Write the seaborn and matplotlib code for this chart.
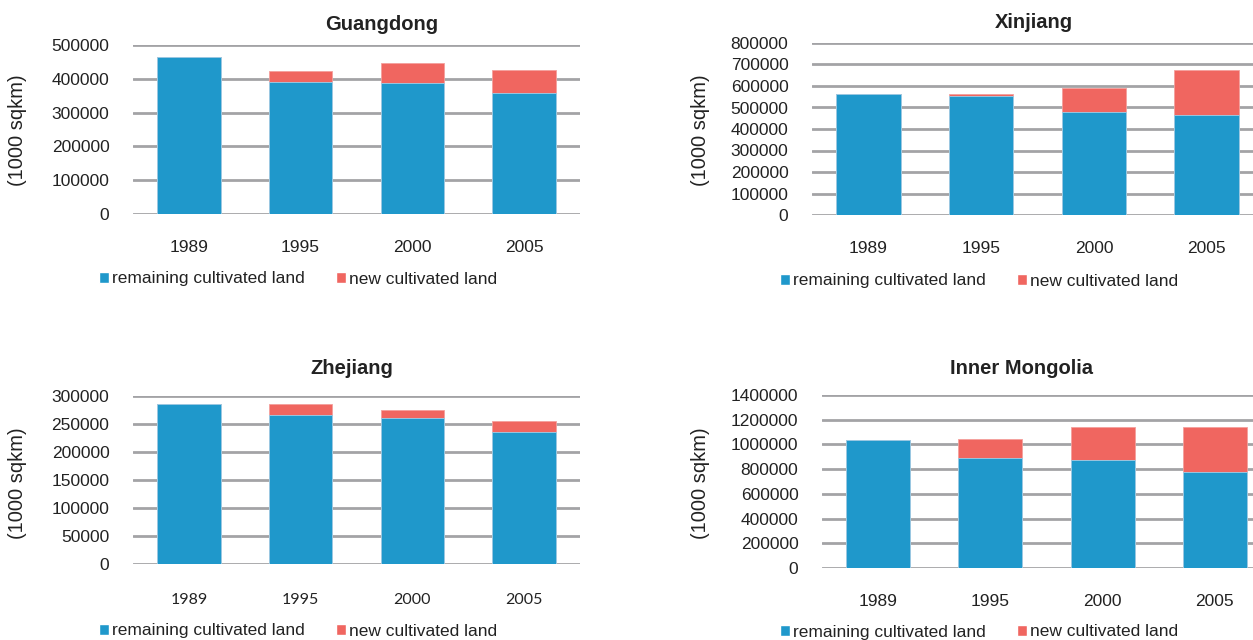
import pandas as pd
import seaborn as sns
import matplotlib.pyplot as plt
from matplotlib.patches import Patch
from matplotlib.ticker import FuncFormatter

# cultivated land by province (1000 sqkm)
years = ["1989", "1995", "2000", "2005"]

guangdong_remaining = [465000, 391000, 387000, 358000]
guangdong_new = [0, 32000, 60000, 68000]

xinjiang_remaining = [565000, 554000, 481000, 466000]
xinjiang_new = [0, 9000, 110000, 207000]

zhejiang_remaining = [285000, 266000, 261000, 236000]
zhejiang_new = [0, 19000, 14000, 19000]

mongolia_remaining = [1032000, 891000, 875000, 777000]
mongolia_new = [0, 154000, 263000, 366000]

BLUE = "#1F98CB"
RED = "#F06660"
GRID = "#A3A3A6"
W, H = 1253, 640

sns.set_theme(style="white")
plt.rcParams["font.family"] = ["Liberation Sans", "DejaVu Sans"]

fig = plt.figure(figsize=(W / 100, H / 100), dpi=100)


def px_axes(left, top, right, bottom):
    return fig.add_axes([left / W, 1 - bottom / H, (right - left) / W, (bottom - top) / H])


panels = [
    # name, remaining, new, axes box (px), ymax, step, title pos, ylabel pos, legend pos
    ("Guangdong", guangdong_remaining, guangdong_new, (133, 45, 580, 214), 500000, 100000,
     (382, 24), (18, 130), (298, 279)),
    ("Xinjiang", xinjiang_remaining, xinjiang_new, (812, 43, 1263, 215), 800000, 100000,
     (1034, 22), (700, 130), (979, 281)),
    ("Zhejiang", zhejiang_remaining, zhejiang_new, (133, 396, 580, 564), 300000, 50000,
     (352, 369), (18, 483), (298, 631)),
    ("Inner Mongolia", mongolia_remaining, mongolia_new, (822, 395, 1271, 568), 1400000, 200000,
     (1022, 368), (700, 483), (979, 632)),
]

for name, remaining, new, box, ymax, step, tpos, ypos, lpos in panels:
    ax = px_axes(*box)
    df = pd.DataFrame({"year": years, "remaining": remaining, "new": new})
    df["total"] = df["remaining"] + df["new"]

    # draw total (red) first, then the remaining part (blue) over it
    sns.barplot(data=df, x="year", y="total", color=RED, width=0.57, saturation=1,
                ax=ax, edgecolor="#F4A09C", linewidth=0.6)
    sns.barplot(data=df, x="year", y="remaining", color=BLUE, width=0.57, saturation=1,
                ax=ax, edgecolor="#9ED0EA", linewidth=0.6)

    ax.set_xlim(-0.5, 3.5)
    ax.set_ylim(0, ymax)
    ax.set_yticks(range(0, ymax + 1, step))
    ax.yaxis.set_major_formatter(FuncFormatter(lambda v, p: f"{v:.0f}"))
    ax.yaxis.grid(True, color=GRID, linewidth=2)
    ax.set_axisbelow(True)
    for s in ax.spines.values():
        s.set_visible(False)
    ax.set_xlabel("")
    ax.set_ylabel("")
    ax.tick_params(axis="both", length=0)
    ax.tick_params(axis="y", labelsize=12.5, pad=17, colors="#222222")
    if name == "Zhejiang":
        ax.tick_params(axis="x", labelsize=11.5, pad=21, colors="#222222")
        for lbl in ax.get_xticklabels():
            lbl.set_family(["Lato", "DejaVu Sans"])
    else:
        ax.tick_params(axis="x", labelsize=12.5, pad=19, colors="#222222")

    fig.text(tpos[0] / W, 1 - tpos[1] / H, name, ha="center", va="center",
             fontsize=14.5, fontweight="bold", color="#222222")
    fig.text(ypos[0] / W, 1 - ypos[1] / H, "(1000 sqkm)", rotation=90,
             ha="center", va="center", fontsize=14.5, color="#222222")

    handles = [Patch(facecolor=BLUE, label="remaining cultivated land"),
               Patch(facecolor=RED, label="new cultivated land")]
    fig.legend(handles=handles, loc="center", bbox_to_anchor=(lpos[0] / W, 1 - lpos[1] / H),
               ncol=2, frameon=False, fontsize=12.5, handlelength=0.6, handleheight=0.6,
               handletextpad=0.15, columnspacing=1.8, borderpad=0, labelcolor="#222222")

fig.savefig("out.png", dpi=100)
